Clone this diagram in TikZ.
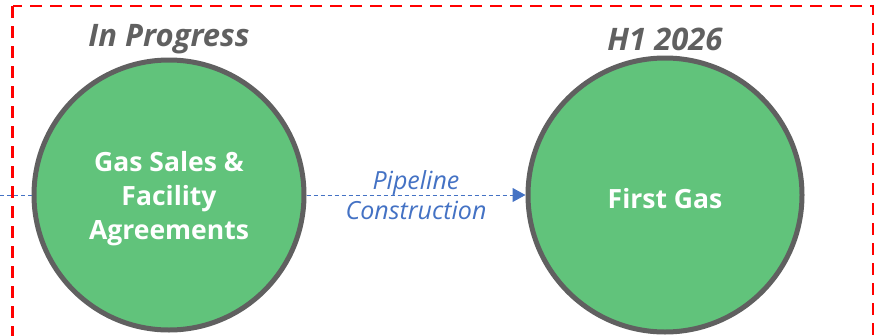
\documentclass[tikz,border=0pt]{standalone}
\usepackage{fontspec}
\setmainfont{Open Sans}
\usetikzlibrary{arrows.meta}
\definecolor{milestone}{HTML}{61C37B}
\definecolor{rimgray}{HTML}{606060}
\definecolor{linkblue}{HTML}{4472C4}
\definecolor{framered}{HTML}{FF0000}
\tikzset{
  milestone/.style={circle, draw=rimgray, line width=5pt, fill=milestone, inner sep=0pt},
  milestonetext/.style={text=white, font=\bfseries\fontsize{26.5}{34}\selectfont, align=center},
  phase/.style={text=rimgray, font=\bfseries\itshape\fontsize{31}{36}\selectfont},
  link/.style={draw=linkblue, dashed, line width=1pt, dash pattern=on 4pt off 3pt},
  linklabel/.style={text=linkblue, font=\itshape\fontsize{25}{30}\selectfont, align=center},
  frame/.style={draw=framered, line width=2.6pt, dash pattern=on 12pt off 8pt}
}
\begin{document}
\begin{tikzpicture}[x=1pt,y=-1pt]
  \useasboundingbox (0,0) rectangle (876,335);
  \begin{scope}
    \clip (0,0) rectangle (876,335);
    \draw[frame] (12.5,6) rectangle (873,360);
  \end{scope}

  % milestone discs
  \node[milestone, minimum size=270pt] (gsa) at (169,195) {};
  \node[milestone, minimum size=274pt] (fg) at (665,195) {};
  \node[milestonetext] (gsatext) at (169,199) {Gas Sales \&\\Facility\\Agreements};
  \node[milestonetext] (fgtext) at (665,199) {First Gas};

  % phase headings
  \node[phase] (ip) at (169,39) {In Progress};
  \node[phase] (h1) at (665,39) {H1 2026};

  % dashed links
  \coordinate (entry) at (0,195);
  \draw[link] (entry) -- (gsa.west);
  \draw[link, -{Triangle[length=13pt,width=14pt,fill=linkblue]}] (gsa.east) -- (fg.west)
    node[linklabel, midway] (pc) {Pipeline\\Construction};
\end{tikzpicture}
\end{document}
